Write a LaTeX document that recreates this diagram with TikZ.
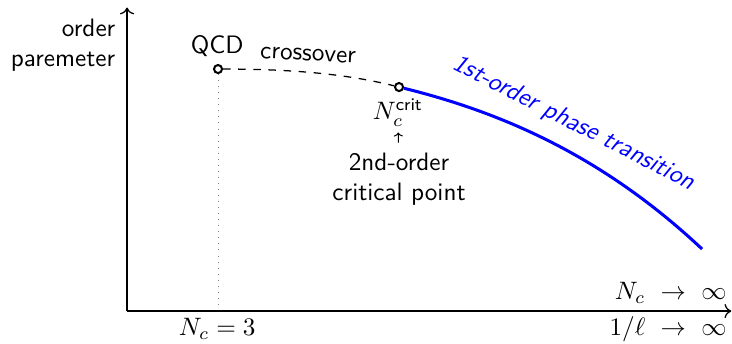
\documentclass[tikz,border=0pt]{standalone}
\usepackage{amsmath}
\usepackage{tikz}
\usetikzlibrary{arrows.meta, positioning, calc}

\begin{document}
\begin{tikzpicture}[font=\sffamily,
    axis/.style={->, line width=0.5pt},
    critpt/.style={circle, draw, fill=white, line width=0.8pt, inner sep=0pt, minimum size=3.2pt},
    firstorder/.style={blue, line width=1.2pt}]

    \useasboundingbox (0,0) rectangle (10.21,4.785);

    % axes
    \coordinate (O) at (1.772,0.446);
    \coordinate (ytop) at (1.772,4.68);
    \coordinate (xend) at (10.20,0.446);
    \draw[axis] (O) -- (ytop);
    \draw[axis] (O) -- (xend);

    % critical points and lines
    \node[critpt] (qcd) at (3.041,3.822) {};
    \node[critpt] (ncrit) at (5.566,3.571) {};
    \coordinate (tcend) at (9.793,1.311);
    \draw[dashed, line width=0.5pt] (qcd) .. controls (3.878,3.822) and (4.729,3.780) .. (ncrit);
    \draw[firstorder] (ncrit) .. controls (6.975,3.222) and (8.398,2.623) .. (tcend);
    \draw[dotted, gray] (qcd) -- ($(qcd |- O)+(0,0.05)$);

    % labels
    \node[align=right, anchor=east, inner sep=0pt] (oplbl) at (1.615,4.150) {order\\paremeter};
    \node (qcdlbl) at (3.03,4.14) {QCD};
    \node[rotate=-3] (xover) at (4.297,4.018) {crossover};
    \node (ncritlbl) at (5.55,3.215) {$N_c^{\text{crit}}$};
    \node[align=center] (cplbl) at (5.566,2.288) {2nd-order\\critical point};
    \draw[-{To[length=1.6pt,width=3.6pt]}, line width=0.4pt, shorten <=0.5pt, shorten >=-1pt] (cplbl) -- (ncritlbl);
    \node[blue, rotate=-27, font=\sffamily\itshape] (folbl) at (8.0,3.063) {1st-order phase transition};
    \node (nc3) at (3.03,0.195) {$N_c=3$};
    \node[anchor=east, inner sep=0pt] (ncinf) at (10.14,0.704) {$N_c\ \to\ \infty$};
    \node[anchor=east, inner sep=0pt] (linf) at (10.14,0.19) {$1/\ell\ \to\ \infty$};
\end{tikzpicture}
\end{document}
